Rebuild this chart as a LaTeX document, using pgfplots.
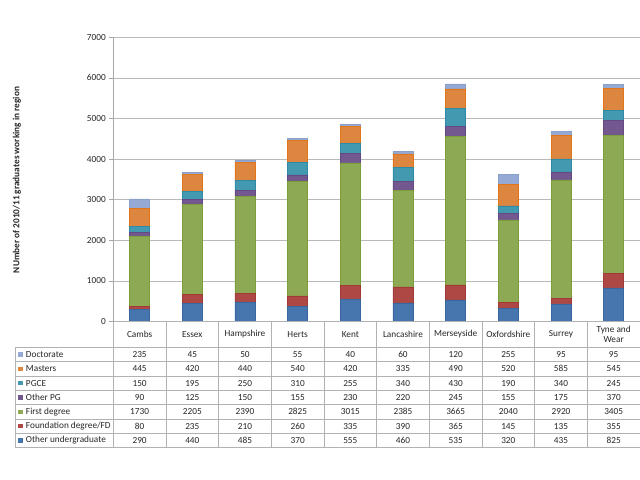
\documentclass[border=0pt]{standalone}
\usepackage{pgfplots}
\pgfplotsset{compat=1.18}
\usepackage{pgfplotstable}
\usepackage{fontspec}
\setmainfont{Carlito}
\definecolor{cUG}{HTML}{4775AE}\definecolor{cUGd}{HTML}{3A66A0}
\definecolor{cFD}{HTML}{AE4845}\definecolor{cFDd}{HTML}{A03A37}
\definecolor{cFG}{HTML}{8DA953}\definecolor{cFGd}{HTML}{7A9E3A}
\definecolor{cOP}{HTML}{72588F}\definecolor{cOPd}{HTML}{634A82}
\definecolor{cPG}{HTML}{4399B0}\definecolor{cPGd}{HTML}{2E8AA6}
\definecolor{cMA}{HTML}{DC863F}\definecolor{cMAd}{HTML}{E2751A}
\definecolor{cDO}{HTML}{94A9D3}\definecolor{cDOd}{HTML}{8AA0CC}
\pgfplotstableread{
x ug fd fdeg opg pgce mas doc
0 290 80 1730 90 150 445 235
1 440 235 2205 125 195 420 45
2 485 210 2390 150 250 440 50
3 370 260 2825 155 310 540 55
4 555 335 3015 230 255 420 40
5 460 390 2385 220 340 335 60
6 535 365 3665 245 430 490 120
7 320 145 2040 155 190 520 255
8 435 135 2920 175 340 585 95
9 825 355 3405 370 245 545 95
}\data
\newcommand\tf{\fontsize{9.3}{11}\selectfont}
\newcommand\FDn{Foundation degree/FD}
\begin{document}
\begin{tikzpicture}[x=1bp,y=1bp]
\useasboundingbox (0,0) rectangle (640,480);
\begin{axis}[at={(113.3bp,158.5bp)}, anchor=south west, scale only axis,
  width=526.7bp, height=284.2bp, ymin=0, ymax=7000, xmin=-0.5, xmax=9.5,
  ybar stacked, bar width=20bp, ytick={0,1000,...,7000}, xtick=\empty,
  ymajorgrids, grid style={draw=gray!55, line width=0.7bp},
  axis lines*=left, axis line style={draw=gray!70, line width=0.7bp},
  tick style={draw=gray!70, line width=0.7bp}, tick align=outside, major tick length=4bp,
  y tick label style={font=\tf, text=black!85},
  /pgf/number format/assume math mode=true, /pgf/number format/1000 sep={},
  clip=false]
\addplot[fill=cUG, draw=cUGd, line width=0.5bp] table[x=x,y=ug]{\data};
\addplot[fill=cFD, draw=cFDd, line width=0.5bp] table[x=x,y=fd]{\data};
\addplot[fill=cFG, draw=cFGd, line width=0.5bp] table[x=x,y=fdeg]{\data};
\addplot[fill=cOP, draw=cOPd, line width=0.5bp] table[x=x,y=opg]{\data};
\addplot[fill=cPG, draw=cPGd, line width=0.5bp] table[x=x,y=pgce]{\data};
\addplot[fill=cMA, draw=cMAd, line width=0.5bp] table[x=x,y=mas]{\data};
\addplot[fill=cDO, draw=cDOd, line width=0.5bp] table[x=x,y=doc]{\data};
\end{axis}
% table grid
\begin{scope}[draw=gray!60, line width=0.6bp]
\draw (113.3,158.5) -- (640,158.5);
\foreach \k in {0,...,7} \draw (15,{132.7-\k*14.343}) -- (640,{132.7-\k*14.343});
\draw (15,132.7) -- (15,32.3);
\foreach \j in {0,...,9} \draw ({113.3+\j*52.67},158.5) -- ({113.3+\j*52.67},32.3);
\end{scope}
% header
\foreach \n [count=\i from 0] in {Cambs,Essex,Hampshire,Herts,Kent,Lancashire,Merseyside,Oxfordshire,Surrey}
  \node[font=\tf, text=black!85] at ({113.3+(\i+0.5)*52.67},145.5) {\n};
\node[font=\tf, text=black!85, align=center, inner sep=0pt] at ({113.3+9.5*52.67},145.6) {Tyne and\\[-1.5pt]Wear};
% rows
\foreach \name/\col/\vals [count=\k from 0] in {
  Doctorate/cDO/{235,45,50,55,40,60,120,255,95,95},
  Masters/cMA/{445,420,440,540,420,335,490,520,585,545},
  PGCE/cPG/{150,195,250,310,255,340,430,190,340,245},
  Other PG/cOP/{90,125,150,155,230,220,245,155,175,370},
  First degree/cFG/{1730,2205,2390,2825,3015,2385,3665,2040,2920,3405},
  \FDn/cFD/{80,235,210,260,335,390,365,145,135,355},
  Other undergraduate/cUG/{290,440,485,370,555,460,535,320,435,825}}{
  \pgfmathsetmacro\yc{132.7-(\k+0.5)*14.343}
  \fill[\col] (18.2,\yc-2.3) rectangle ++(4.6,4.6);
  \node[font=\tf, text=black!85, anchor=west, inner sep=0pt] at (25.8,\yc) {\name};
  \foreach \v [count=\i from 0] in \vals
    \node[font=\tf, text=black!85] at ({113.3+(\i+0.5)*52.67},\yc) {\v};
}
\node[font=\tf\bfseries, text=black!85, rotate=90] at (17,300) {NUmber of 2010/11 graduates working in region};
\end{tikzpicture}
\end{document}
